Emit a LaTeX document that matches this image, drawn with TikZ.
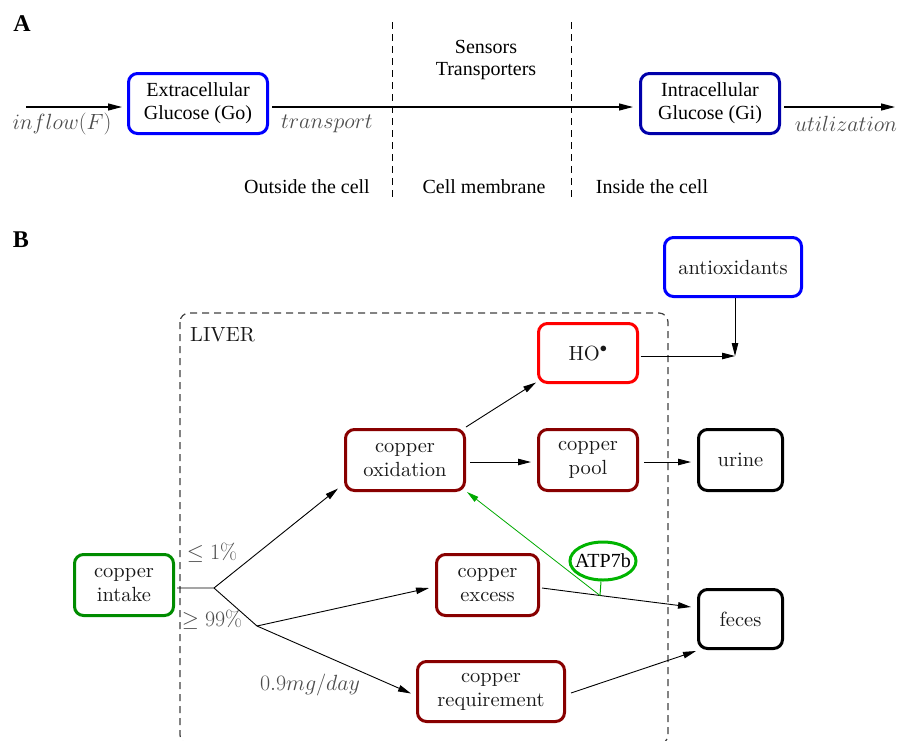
\RequirePackage{fix-cm}
\documentclass[tikz,border=0pt]{standalone}
\usepackage{fontspec}
\newfontfamily\tms{Liberation Serif}
\newfontfamily\lmten{lmroman10-regular}[Extension=.otf]
\usetikzlibrary{arrows.meta,shapes.geometric}
\definecolor{cBlue}{RGB}{0,0,255}
\definecolor{cNavy}{RGB}{0,0,170}
\definecolor{cDRed}{RGB}{136,0,0}
\definecolor{cRed}{RGB}{255,0,0}
\definecolor{cGreen}{RGB}{0,140,0}
\definecolor{cLGreen}{RGB}{0,180,0}
\definecolor{cAGreen}{RGB}{0,170,0}
\begin{document}
\begin{tikzpicture}[x=1pt,y=-1pt,
  boxA/.style={draw,line width=3pt,rounded corners=9pt,minimum width=139pt,minimum height=60pt,inner sep=0pt,align=center,text=black,font=\tms\fontsize{20}{23}\selectfont},
  boxB/.style={draw,line width=3pt,rounded corners=9pt,inner sep=0pt,align=center,text=black!90,font=\lmten\fontsize{20.5}{24}\selectfont},
  tA/.style={font=\tms\fontsize{20}{23}\selectfont,align=center,inner sep=0pt},
  mA/.style={font=\fontsize{22}{24}\selectfont,text=black!70,inner sep=0pt},
  mB/.style={font=\fontsize{22}{24}\selectfont,text=black!70,inner sep=0pt},
  arrA/.style={line width=1.2pt,-{Triangle[length=14pt,width=7pt]}},
  arrB/.style={line width=0.9pt,-{Triangle[length=13pt,width=6.5pt]}},
  lineB/.style={line width=0.9pt},
  dashA/.style={line width=0.9pt,dash pattern=on 7pt off 5pt},
  dashB/.style={line width=1.2pt,black!75,dash pattern=on 7pt off 5pt}]
\useasboundingbox (0,0) rectangle (897,740);

% ---------------- Panel A ----------------
\node[font=\tms\bfseries\fontsize{24}{26}\selectfont,inner sep=0pt] (lA) at (22,24) {A};
\coordinate (m1t) at (392,22); \coordinate (m1b) at (392,198);
\coordinate (m2t) at (571,22); \coordinate (m2b) at (571,198);
\draw[dashA] (m1t) -- (m1b);
\draw[dashA] (m2t) -- (m2b);

\node[boxA,draw=cBlue] (ext) at (198,103.5) {Extracellular\\Glucose (Go)};
\node[boxA,draw=cNavy] (intra) at (710,103.5) {Intracellular\\Glucose (Gi)};

\coordinate (inS) at (26,107);
\coordinate (utE) at (895,107);
\draw[arrA] (inS) -- ([xshift=-5pt,yshift=-3.5pt]ext.west);
\draw[arrA] ([xshift=3pt,yshift=-3.5pt]ext.east) -- ([xshift=-6pt,yshift=-3.5pt]intra.west);
\draw[arrA] ([xshift=3pt,yshift=-3.5pt]intra.east) -- (utE);

\node[mA] (inflow) at (62,124) {$inflow(F)$};
\node[mA] (transp) at (327,124) {$transport$};
\node[mA] (util) at (846,124) {$utilization$};
\node[tA] (sens) at (486,47) {Sensors};
\node[tA] (trans) at (486,71) {Transporters};
\node[tA] (outc) at (307,187) {Outside the cell};
\node[tA] (memb) at (484,187) {Cell membrane};
\node[tA] (insc) at (652,187) {Inside the cell};

% ---------------- Panel B ----------------
\node[font=\tms\bfseries\fontsize{24}{26}\selectfont,inner sep=0pt] (lB) at (21,240) {B};
\draw[dashB,rounded corners=9pt] (180,313) rectangle (668,744);
\node[anchor=west,inner sep=0pt,text=black!90,font=\lmten\fontsize{20.5}{24}\selectfont] (liver) at (190,335) {LIVER};

\node[boxB,draw=cBlue,minimum width=137pt,minimum height=59pt] (anti) at (733,267) {antioxidants};
\node[boxB,draw=cRed,minimum width=99pt,minimum height=59pt] (ho) at (588,353) {HO$^\bullet$};
\node[boxB,draw=cDRed,minimum width=119pt,minimum height=61pt] (ox) at (405,460) {copper\\oxidation};
\node[boxB,draw=cDRed,minimum width=99pt,minimum height=61pt] (pool) at (588,460) {copper\\pool};
\node[boxB,draw=black,minimum width=84pt,minimum height=61pt] (urine) at (740.5,460) {urine};
\node[boxB,draw=cGreen,minimum width=99pt,minimum height=61pt] (intake) at (124,585) {copper\\intake};
\node[boxB,draw=cDRed,minimum width=102pt,minimum height=61pt] (excess) at (487.5,585) {copper\\excess};
\node[boxB,draw=black,minimum width=84pt,minimum height=59pt] (feces) at (740.5,619) {feces};
\node[boxB,draw=cDRed,minimum width=147pt,minimum height=60pt] (req) at (491,691.5) {copper\\requirement};
\node[ellipse,draw=cLGreen,line width=3pt,inner xsep=-6pt,inner ysep=3pt,minimum width=66pt,minimum height=38pt,font=\tms\fontsize{20}{23}\selectfont] (atp) at (603,561) {ATP7b};

\coordinate (b1) at (214,588);
\coordinate (b2) at (257,626);
\coordinate (J) at (735,356);
\coordinate (K) at (600,595.5);

\draw[lineB] ([xshift=2pt,yshift=-3pt]intake.east) -- (b1) -- (b2);
\draw[arrB] (b1) -- ([xshift=-6pt,yshift=3.5pt]ox.south west);
\draw[arrB] (b2) -- ([xshift=-6pt,yshift=-3pt]excess.west);
\draw[arrB] (b2) -- ([xshift=-5pt,yshift=-2pt]req.west);
\draw[arrB] ([yshift=1pt]ox.north east) -- ([xshift=-1pt,yshift=1.5pt]ho.south west);
\draw[arrB] ([xshift=4pt,yshift=-2pt]ox.east) -- ([xshift=-6pt,yshift=-2pt]pool.west);
\draw[arrB] ([xshift=1.5pt,yshift=-3pt]ho.east) -- (J);
\draw[arrB] (anti.south -| J) -- (J);
\draw[arrB] ([xshift=5pt,yshift=-2pt]pool.east) -- ([xshift=-6pt,yshift=-2pt]urine.west);
\draw[lineB] ([xshift=2pt,yshift=-3pt]excess.east) -- (K);
\draw[arrB] (K) -- ([xshift=-6pt,yshift=12pt]feces.west);
\draw[arrB] ([xshift=5pt,yshift=-1.5pt]req.east) -- ([xshift=-1pt,yshift=-1pt]feces.south west);
\draw[cAGreen,line width=1pt] ([xshift=-2pt]atp.south) -- (K);
\draw[cAGreen,line width=0.8pt,-{Triangle[length=12pt,width=6pt]}] (K) -- ([xshift=1pt]ox.south east);

\node[mB] (lt) at (212,553) {$\leq 1\%$};
\node[mB] (gt) at (212,620) {$\geq 99\%$};
\node[mB] (rate) at (310,685) {$0.9mg/day$};
\end{tikzpicture}
\end{document}
